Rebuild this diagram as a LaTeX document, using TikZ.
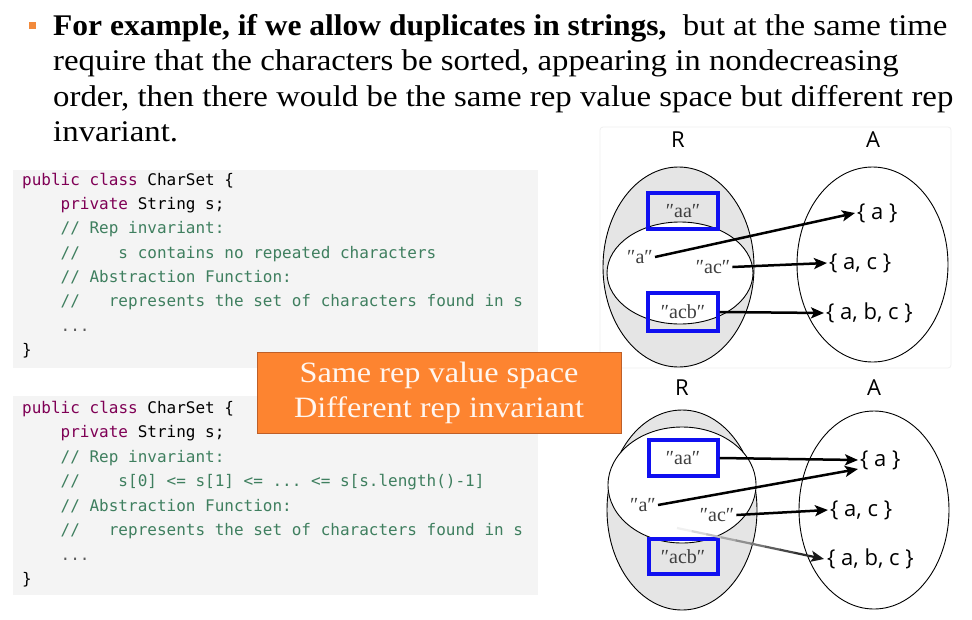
\documentclass[tikz,border=0pt]{standalone}
\usepackage{fontspec}
\setmainfont{Liberation Serif}
\setmonofont{DejaVu Sans Mono}
\newfontfamily\headfont[FakeStretch=1.095, BoldFeatures={FakeStretch=1.05}]{Liberation Serif}
\newfontfamily\diafont{Open Sans}
\newfontfamily\strfont{Liberation Serif}
\usetikzlibrary{shapes.geometric,arrows.meta,calc}
\definecolor{codebg}{RGB}{244,244,244}
\definecolor{ckwc}{RGB}{127,0,85}
\definecolor{ccmc}{RGB}{63,127,95}
\definecolor{cdots}{RGB}{90,90,90}
\definecolor{rgray}{RGB}{229,229,229}
\definecolor{bluebox}{RGB}{16,16,240}
\definecolor{orfill}{RGB}{253,132,48}
\definecolor{ordraw}{RGB}{190,95,40}
\definecolor{bulletc}{RGB}{242,138,60}
\definecolor{strgray}{RGB}{64,64,64}
\definecolor{ortext}{RGB}{255,246,240}
\newcommand{\ckw}[1]{\textcolor{ckwc}{#1}}
\newcommand{\ccm}[1]{\textcolor{ccmc}{#1}}
\tikzset{
  hd/.style={anchor=base west, inner sep=0pt, font=\headfont\fontsize{30}{35}\selectfont},
  codeline/.style={anchor=mid west, inner sep=0pt, font=\ttfamily\fontsize{16}{20}\selectfont},
  codebox/.style={fill=codebg, draw=none},
  rset/.style={ellipse, draw, line width=0.9pt, inner sep=0pt},
  strlab/.style={inner sep=2pt, text=strgray, font=\strfont\fontsize{20}{22}\selectfont},
  bluefr/.style={draw=bluebox, line width=3.3pt, inner sep=0pt},
  setlab/.style={anchor=west, inner sep=2pt, font=\diafont\fontsize{22}{24}\selectfont},
  hdlab/.style={inner sep=0pt, font=\diafont\fontsize{22}{24}\selectfont},
  maparrow/.style={line width=2.5pt, -{Stealth[length=13pt,width=11pt,inset=3pt]}},
  orbox/.style={fill=orfill, draw=ordraw, line width=0.8pt, text=ortext, align=center,
     font=\headfont\fontsize{29.5}{35}\selectfont}
}
\begin{document}
\begin{tikzpicture}[x=1pt,y=-1pt]
\useasboundingbox[fill=white] (0,0) rectangle (972,619);

% header
\node[fill=bulletc, minimum size=7pt, inner sep=0pt] (bul) at (32,25.5) {};
\node[hd] (h1) at (53,35) {\textbf{For example, if we allow duplicates in strings,}\ \ but at the same time};
\node[hd] (h2) at (53,70.5) {require that the characters be sorted, appearing in nondecreasing};
\node[hd] (h3) at (53,106) {order, then there would be the same rep value space but different rep};
\node[hd] (h4) at (53,141) {invariant.};

% code box 1
\node[codebox, minimum width=525pt, minimum height=198pt, inner sep=0pt] (cb1) at (275.5,269) {};
\node[codeline] (a1) at (22,183) {\ckw{public class} CharSet \{};
\node[codeline] (a2) at (60.5,207.3) {\ckw{private} String s;};
\node[codeline] (a3) at (60.5,231.6) {\ccm{// Rep invariant:}};
\node[codeline] (a4) at (60.5,255.9) {\ccm{//\ \ \ \ s contains no repeated characters}};
\node[codeline] (a5) at (60.5,280.2) {\ccm{// Abstraction Function:}};
\node[codeline] (a6) at (60.5,304.5) {\ccm{//\ \ \ represents the set of characters found in s}};
\node[codeline] (a7) at (60.5,328.8) {\textcolor{cdots}{...}};
\node[codeline] (a8) at (22,353.1) {\}};

% code box 2
\node[codebox, minimum width=525pt, minimum height=199pt, inner sep=0pt] (cb2) at (275.5,495.5) {};
\node[codeline] (b1) at (22,411) {\ckw{public class} CharSet \{};
\node[codeline] (b2) at (60.5,435.5) {\ckw{private} String s;};
\node[codeline] (b3) at (60.5,460) {\ccm{// Rep invariant:}};
\node[codeline] (b4) at (60.5,484.5) {\ccm{//\ \ \ \ s[0] <= s[1] <= ... <= s[s.length()-1]}};
\node[codeline] (b5) at (60.5,509) {\ccm{// Abstraction Function:}};
\node[codeline] (b6) at (60.5,533.5) {\ccm{//\ \ \ represents the set of characters found in s}};
\node[codeline] (b7) at (60.5,558) {\textcolor{cdots}{...}};
\node[codeline] (b8) at (22,582.5) {\}};

% ---------- top diagram ----------
\draw[gray!12, line width=0.8pt, rounded corners=3pt] (600,127) rectangle (951,368);
\node[hdlab] (R1) at (678,140) {R};
\node[hdlab] (A1) at (873,140) {A};
\node[rset, fill=rgray, minimum width=151pt, minimum height=200pt] (R1out) at (678.5,267) {};
\node[rset, fill=white, minimum width=146pt, minimum height=102pt] (R1in) at (680,273) {};
\node[rset, fill=white, minimum width=151pt, minimum height=195pt] (A1e) at (872.5,264.5) {};
\node[bluefr, minimum width=70pt, minimum height=36pt] (bx11) at (683,211) {};
\node[bluefr, minimum width=70pt, minimum height=38pt] (bx12) at (683,312) {};
\node[strlab] (s11) at (683,211) {″aa″};
\node[strlab] (s12) at (640,257) {″a″};
\node[strlab] (s13) at (713,267) {″ac″};
\node[strlab] (s14) at (683,312) {″acb″};
\node[setlab] (t11) at (855,213) {\{ a \}};
\node[setlab] (t12) at (827,263) {\{ a, c \}};
\node[setlab] (t13) at (824,313) {\{ a, b, c \}};
\draw[maparrow] (s12.east) -- (t11.west);
\draw[maparrow] (s13.east) -- (t12.west);
\draw[maparrow] (bx12.east) -- (t13.west);

% ---------- bottom diagram ----------
\node[hdlab] (R2) at (682,388) {R};
\node[hdlab] (A2) at (874,388) {A};
\node[rset, fill=rgray, minimum width=150pt, minimum height=200pt] (R2out) at (682,510) {};
\node[rset, fill=white, minimum width=148pt, minimum height=116pt] (R2in) at (682,485) {};
\node[rset, fill=white, minimum width=150pt, minimum height=198pt] (A2e) at (874,510) {};
\node[bluefr, minimum width=69pt, minimum height=36pt] (bx21) at (683.5,458) {};
\node[bluefr, minimum width=69pt, minimum height=35pt] (bx22) at (683.5,556.5) {};
\node[strlab] (s21) at (683,458) {″aa″};
\node[strlab] (s22) at (643,505) {″a″};
\node[strlab] (s23) at (717,515) {″ac″};
\node[strlab] (s24) at (683,557) {″acb″};
\node[setlab] (t21) at (858,460) {\{ a \}};
\node[setlab] (t22) at (828,510) {\{ a, c \}};
\node[setlab] (t23) at (825,559) {\{ a, b, c \}};
\draw[maparrow] (bx21.east) -- (t21.west);
\draw[maparrow] (s22.east) -- ([yshift=-9pt]t21.west);
\draw[maparrow] (s23.east) -- (t22.west);
\coordinate (fs) at (677,528);
\coordinate (fe) at ([xshift=-1pt]t23.west);
\foreach \i in {0,...,8} {
  \pgfmathsetmacro{\cc}{6+9.5*\i}
  \draw[line width=2.2pt, color=black!\cc] ($(fs)!\i/10!(fe)$) -- ($(fs)!\i/10+0.105!(fe)$);
}
\draw[line width=2.2pt, color=black!90, -{Stealth[length=13pt,width=11pt,inset=3pt]}] ($(fs)!0.9!(fe)$) -- (fe);

% orange callout
\node[orbox, minimum width=364pt, minimum height=81pt, inner sep=0pt] (call) at (439,392.5)
  {Same rep value space\\Different rep invariant};
\end{tikzpicture}
\end{document}
